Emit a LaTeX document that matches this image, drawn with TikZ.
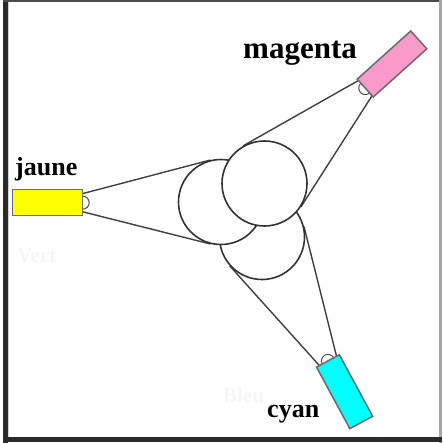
\documentclass[tikz,border=0pt]{standalone}
\usepackage{fontspec}
\setmainfont{Liberation Serif}
\usetikzlibrary{calc,backgrounds}
\definecolor{lampyellow}{HTML}{FFFF00}
\definecolor{lamppink}{HTML}{F99ACB}
\definecolor{lampcyan}{HTML}{00FFFF}
\definecolor{framedark}{HTML}{2B2B2B}
\definecolor{ghostgray}{HTML}{F6F6F6}
\pgfdeclarelayer{paper}
\pgfsetlayers{paper,background,main}
\begin{document}
\begin{tikzpicture}[x=1pt,y=-1pt,
  lamp/.style={draw=black!58, line width=1.5pt, minimum width=70pt, minimum height=26pt, inner sep=0pt, outer sep=0pt},
  bulb/.style={circle, draw=black!70, line width=1pt, fill=white, minimum size=13pt, inner sep=0pt},
  disc/.style={circle, draw=black!80, line width=1.6pt, fill=white, minimum size=85pt, inner sep=0pt},
  beam/.style={draw=black!75, line width=1.4pt},
  lbl/.style={font=\bfseries, text=black, inner sep=0pt, anchor=base west},
  ghost/.style={font=\bfseries, text=ghostgray, inner sep=0pt, anchor=base west}]
\useasboundingbox (0,0) rectangle (442,443);
\begin{pgfonlayer}{paper}
\fill[white] (0,0) rectangle (442,443);
\end{pgfonlayer}
% frame
\fill[framedark] (3,0) rectangle (7.5,443);
\fill[black!18] (7.5,2.5) rectangle (9,437);
\fill[black!70] (3,0) rectangle (442,2);
\fill[black!35] (439.3,0) rectangle (441.5,443);
\fill[framedark] (3,437) rectangle (442,442);
% ghost texts
\node[ghost, font=\bfseries\fontsize{21}{21}\selectfont] (vert) at (17,262) {Vert};
\node[ghost, font=\bfseries\fontsize{21}{21}\selectfont] (bleu) at (223,402) {Bleu};
% circles
\node[disc] (C) at (262,237) {};
\node[disc] (B) at (221,202) {};
\node[disc] (A) at (264.5,183.5) {};
% lamps
\node[lamp, fill=lampyellow] (J) at (47.7,202.7) {};
\node[lamp, fill=lamppink, rotate=42, minimum width=72pt, minimum height=24pt] (M) at (392,64) {};
\node[lamp, fill=lampcyan, rotate=-61.6, minimum width=70pt, minimum height=26pt] (Cy) at (344.6,391.7) {};
% beam end points
\coordinate (J1) at ($(J.east)!0.7!(J.north east)$);
\coordinate (J2) at ($(J.east)!0.7!(J.south east)$);
\coordinate (M1) at ($(M.west)!0.85!(M.north west)$);
\coordinate (M2) at ($(M.west)!0.85!(M.south west)$);
\coordinate (Cy1) at ($(Cy.west)!0.75!(Cy.north west)$);
\coordinate (Cy2) at ($(Cy.west)!0.75!(Cy.south west)$);
\begin{scope}[on background layer]
  \draw[beam] (J1) -- (tangent cs:node=B,point={(J1)},solution=2);
  \draw[beam] (J2) -- (tangent cs:node=B,point={(J2)},solution=1);
  \draw[beam] (M1) -- (tangent cs:node=A,point={(M1)},solution=1);
  \draw[beam] (M2) -- (tangent cs:node=A,point={(M2)},solution=2);
  \draw[beam] (Cy1) -- (tangent cs:node=C,point={(Cy1)},solution=1);
  \draw[beam] (Cy2) -- (tangent cs:node=C,point={(Cy2)},solution=2);
  \node[bulb] (Jb) at (J.east) {};
  \node[bulb] (Mb) at (M.west) {};
  \node[bulb] (Cyb) at (Cy.west) {};
\end{scope}
% labels
\node[lbl, font=\bfseries\fontsize{26}{26}\selectfont] (tj) at (15,176) {jaune};
\node[lbl, font=\bfseries\fontsize{31}{31}\selectfont] (tm) at (243,59) {magenta};
\node[lbl, font=\bfseries\fontsize{26}{26}\selectfont] (tc) at (267,417) {cyan};
\end{tikzpicture}
\end{document}
